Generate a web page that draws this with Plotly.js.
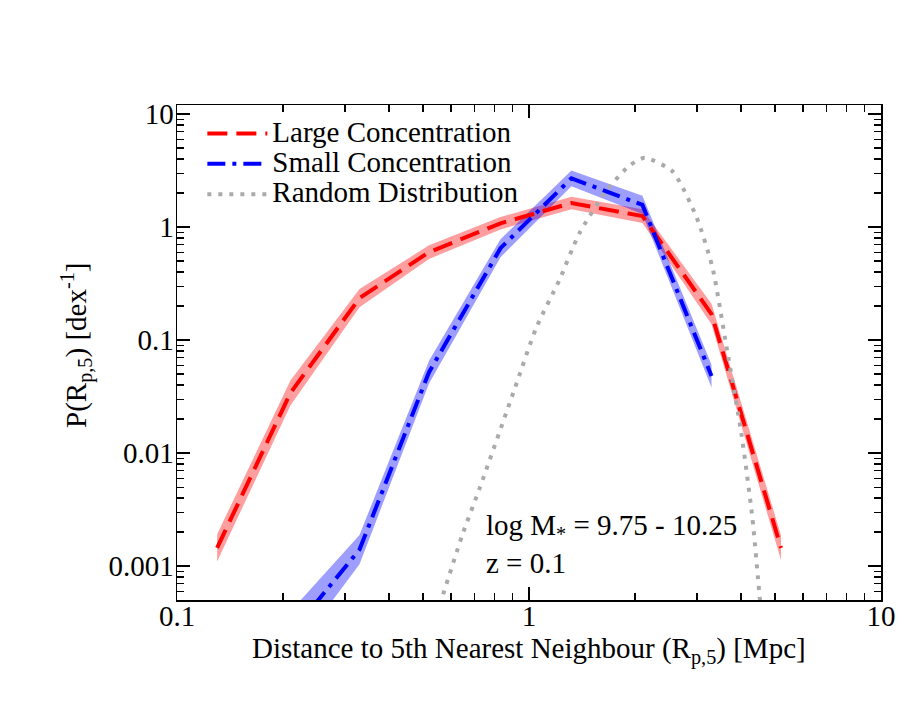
<!DOCTYPE html>
<html>
<head>
<meta charset="utf-8">
<script src="https://cdn.plot.ly/plotly-3.0.1.min.js"></script>
<style>html,body{margin:0;padding:0;background:#fff;}#chart{width:913px;height:706px;}</style>
</head>
<body>
<div id="chart"></div>
<script>
// Large concentration
var largeX = [0.13, 0.21, 0.33, 0.52, 0.83, 1.32, 2.1, 3.3, 5.2];
var largeY = [0.00145, 0.034, 0.235, 0.60, 1.08, 1.63, 1.25, 0.17, 0.00145];
var largeErrDex = [0.12, 0.11, 0.08, 0.06, 0.055, 0.055, 0.06, 0.09, 0.11];
// Small concentration
var smallX = [0.21, 0.33, 0.52, 0.83, 1.32, 2.1, 3.3];
var smallY = [0.00025, 0.0014, 0.052, 0.65, 2.7, 1.57, 0.048];
var smallErrDex = [0.2, 0.13, 0.1, 0.08, 0.07, 0.08, 0.1];
// Random distribution
var randX = [0.53, 0.563, 0.647, 0.726, 0.913, 1.05, 1.22, 1.39, 1.66, 1.93, 2.13, 2.56, 2.99, 3.32, 3.64, 4.01, 4.31, 4.49, 4.6];
var randY = [0.0003, 0.0005, 0.0019, 0.005, 0.038, 0.13, 0.34, 0.88, 2.1, 3.5, 4.1, 3.1, 1.23, 0.44, 0.087, 0.015, 0.0027, 0.00068, 0.0003];

var seriesNames = ['Large Concentration', 'Small Concentration', 'Random Distribution'];
var xTitle = 'Distance to 5th Nearest Neighbour (R<sub>p,5</sub>) [Mpc]';
var yTitle = 'P(R<sub>p,5</sub>) [dex<sup>-1</sup>]';
var yTickVals = [0.001, 0.01, 0.1, 1, 10];
var yTickText = ['0.001', '0.01', '0.1', '1', '10'];
var xTickVals = [0.1, 1, 10];
var xTickText = ['0.1', '1', '10'];
var minorDigits = [2, 3, 4, 5, 6, 7, 8, 9];
var decades = [0.0001, 0.001, 0.01, 0.1, 1, 10];

var minorVals = [];
decades.forEach(function(d){ minorDigits.forEach(function(m){ minorVals.push(d*m); }); });

function bandTrace(xs, ys, errs, color) {
  var up = ys.map(function(v,i){ return v*Math.pow(10, errs[i]); });
  var lo = ys.map(function(v,i){ return v/Math.pow(10, errs[i]); });
  return {
    x: xs.concat(xs.slice().reverse()),
    y: up.concat(lo.slice().reverse()),
    mode: 'lines', fill: 'toself', fillcolor: color,
    line: {width: 0, color: color}, showlegend: false, hoverinfo: 'skip', type: 'scatter'
  };
}

var font = "'Liberation Serif', 'Times New Roman', serif";
var TXT = 29;
function big(s){ return '<span style="font-size:' + TXT + 'px">' + s + '</span>'; }

var data = [
  bandTrace(largeX, largeY, largeErrDex, 'rgba(255,0,0,0.38)'),
  bandTrace(smallX, smallY, smallErrDex, 'rgba(0,0,255,0.38)'),
  {x: largeX, y: largeY, mode: 'lines', name: big(seriesNames[0]), type: 'scatter',
   line: {color: '#ff0000', width: 4, dash: '20px,9px'}},
  {x: smallX, y: smallY, mode: 'lines', name: big(seriesNames[1]), type: 'scatter',
   line: {color: '#0000ff', width: 4, dash: '18px,7px,4px,7px'}},
  {x: randX, y: randY, mode: 'lines', name: big(seriesNames[2]), type: 'scatter',
   line: {color: '#aaaaaa', width: 4, dash: '4px,7px', shape: 'spline', smoothing: 0.6}}
];

var axisCommon = {
  type: 'log', showgrid: false, zeroline: false, showline: true, linecolor: '#000', linewidth: 1.5,
  mirror: 'allticks', ticks: 'inside', ticklen: 13, tickwidth: 1.3, tickcolor: '#000',
  tickfont: {family: font, size: 29, color: '#000'},
  minor: {tickmode: 'array', tickvals: minorVals, ticks: 'inside', ticklen: 7, tickwidth: 1.2, tickcolor: '#000', showgrid: false}
};

var layout = {
  width: 913, height: 706,
  paper_bgcolor: '#fff', plot_bgcolor: '#fff',
  margin: {l: 177, r: 32, t: 105, b: 106},
  showlegend: true,
  legend: {x: 0.036, y: 0.983, xanchor: 'left', yanchor: 'top', bgcolor: 'rgba(0,0,0,0)',
           font: {family: font, size: 21, color: '#000'}, tracegroupgap: 0, itemwidth: 60},
  xaxis: Object.assign({}, axisCommon, {
    range: [-1, 1], tickmode: 'array', tickvals: xTickVals, ticktext: xTickText, ticklabelstandoff: -10
  }),
  yaxis: Object.assign({}, axisCommon, {
    range: [-3.3, 1.08], tickmode: 'array', tickvals: yTickVals, ticktext: yTickText, ticklabelstandoff: -4
  }),
  annotations: [
    {xref: 'paper', yref: 'paper', x: 0.5, y: (600-650)/495, xanchor: 'center', yanchor: 'middle', showarrow: false,
     text: xTitle, font: {family: font, size: TXT, color: '#000'}},
    {xref: 'paper', yref: 'paper', x: (76-177)/704, y: (600-345)/495, xanchor: 'center', yanchor: 'middle', showarrow: false,
     textangle: -90, text: yTitle, font: {family: font, size: TXT, color: '#000'}},
    {xref: 'paper', yref: 'paper', x: (484-177)/704, y: (600-527)/495, xanchor: 'left', yanchor: 'middle', showarrow: false,
     text: 'log M<sub>*</sub> = 9.75 - 10.25', font: {family: font, size: TXT, color: '#000'}},
    {xref: 'paper', yref: 'paper', x: (484-177)/704, y: (600-563)/495, xanchor: 'left', yanchor: 'middle', showarrow: false,
     text: 'z = 0.1', font: {family: font, size: TXT, color: '#000'}}
  ]
};

Plotly.newPlot('chart', data, layout, {displayModeBar: false, staticPlot: true});
</script>
</body>
</html>
